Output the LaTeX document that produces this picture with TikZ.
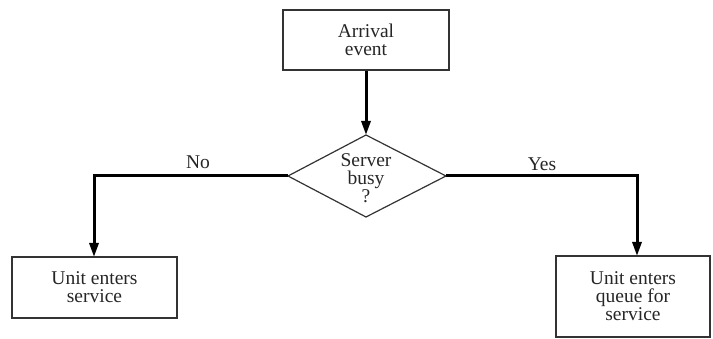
\documentclass[tikz,border=0pt]{standalone}
\usepackage{fontspec}
\setmainfont{Liberation Serif}
\usetikzlibrary{shapes.geometric,arrows.meta}
\begin{document}
\begin{tikzpicture}[x=1pt,y=-1pt,
  txt/.style={font=\fontsize{19.5}{18}\selectfont,text=black!85},
  box/.style={txt,draw=black!80,line width=1.6pt,rectangle,inner sep=0pt,align=center},
  flow/.style={line width=3pt,-{Triangle[length=14pt,width=9pt]}},
  lbl/.style={txt,anchor=base}]
\useasboundingbox (0,0) rectangle (713,339);
\node[box,minimum width=166pt,minimum height=60pt] (arr) at (366,40) {Arrival\\event};
\coordinate (dt) at (366,135);
\coordinate (dl) at (288,176);
\coordinate (dr) at (446,176);
\coordinate (db) at (366,217);
\draw[draw=black!80,line width=1.2pt] (dt) -- (dr) -- (db) -- (dl) -- cycle;
\node[txt,align=center] (srv) at (366,178) {Server\\busy\\?};
\node[box,minimum width=165pt,minimum height=61pt] (ues) at (94.5,287.5) {Unit enters\\service};
\node[box,minimum width=154pt,minimum height=81pt] (ueq) at (633,296.5) {Unit enters\\queue for\\service};
\draw[flow] (arr.south) -- (dt);
\draw[flow] (dl) -| (94,257);
\draw[flow] (dr) -| (637,256);
\node[lbl] (no) at (198,169) {No};
\node[lbl] (yes) at (542,171) {Yes};
\end{tikzpicture}
\end{document}
